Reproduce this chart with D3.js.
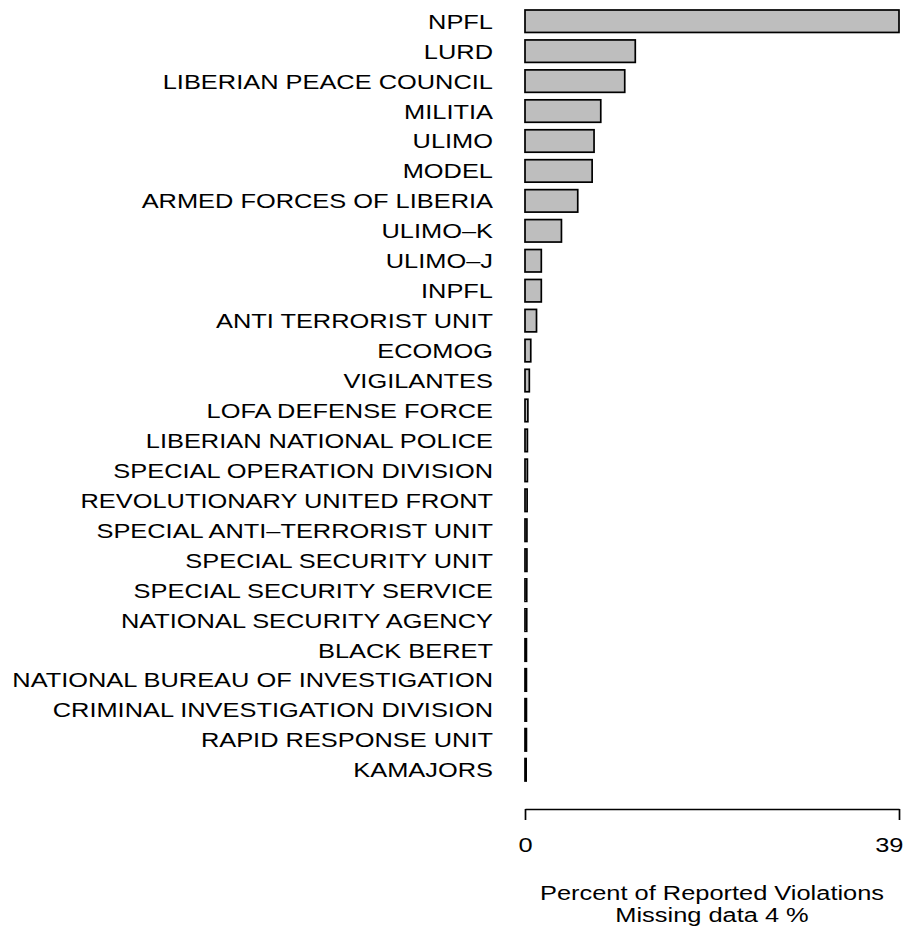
<!DOCTYPE html>
<html>
<head>
<meta charset="utf-8">
<script src="https://cdn.jsdelivr.net/npm/d3@7"></script>
<style>
  body { margin: 0; background: #fff; }
  text { font-family: "Liberation Sans", Arial, sans-serif; fill: #000; }
</style>
</head>
<body>
<div id="chart"></div>
<script>
var groups = ["NPFL", "LURD", "LIBERIAN PEACE COUNCIL", "MILITIA", "ULIMO", "MODEL",
  "ARMED FORCES OF LIBERIA", "ULIMO\u2013K", "ULIMO\u2013J", "INPFL", "ANTI TERRORIST UNIT",
  "ECOMOG", "VIGILANTES", "LOFA DEFENSE FORCE", "LIBERIAN NATIONAL POLICE",
  "SPECIAL OPERATION DIVISION", "REVOLUTIONARY UNITED FRONT", "SPECIAL ANTI\u2013TERRORIST UNIT",
  "SPECIAL SECURITY UNIT", "SPECIAL SECURITY SERVICE", "NATIONAL SECURITY AGENCY",
  "BLACK BERET", "NATIONAL BUREAU OF INVESTIGATION", "CRIMINAL INVESTIGATION DIVISION",
  "RAPID RESPONSE UNIT", "KAMAJORS"];
var percents = [39, 11.5, 10.4, 7.9, 7.2, 7.0, 5.5, 3.8, 1.7, 1.7, 1.2, 0.6, 0.45,
  0.3, 0.25, 0.25, 0.22, 0.2, 0.2, 0.18, 0.18, 0.15, 0.15, 0.15, 0.15, 0.12];
var tickValues = [0, 39];
var titleLines = ["Percent of Reported Violations", "Missing data 4 %"];

var W = 913, H = 929;
var x0 = 525, x1 = 899;
var fs = 21, sx = 1.21;   // font looks horizontally stretched in the original

var svg = d3.select("#chart").append("svg")
  .attr("width", W)
  .attr("height", H);

var x = d3.scaleLinear().domain([0, 39]).range([x0, x1]);
var y = d3.scaleBand().domain(groups).range([7, 784]).paddingInner(0.25).paddingOuter(0.1);

// bars
svg.selectAll("rect.bar")
  .data(groups)
  .enter()
  .append("rect")
  .attr("class", "bar")
  .attr("x", x(0))
  .attr("y", function(d){ return y(d); })
  .attr("width", function(d, i){ return Math.max(x(percents[i]) - x(0), 0.5); })
  .attr("height", y.bandwidth())
  .attr("fill", "#bebebe")
  .attr("stroke", "#000")
  .attr("stroke-width", 1.7);

// category labels
svg.selectAll("text.lab")
  .data(groups)
  .enter()
  .append("text")
  .attr("class", "lab")
  .attr("transform", function(d){
    return "translate(493," + (y(d) + y.bandwidth() / 2 + 7.5) + ") scale(" + sx + ",1)";
  })
  .attr("text-anchor", "end")
  .attr("font-size", fs + "px")
  .text(function(d){ return d; });

// bottom axis
var axis = d3.axisBottom(x).tickValues(tickValues).tickSize(11).tickPadding(0).tickSizeOuter(0);
var gAxis = svg.append("g")
  .attr("transform", "translate(0,809)")
  .call(axis);
gAxis.select(".domain").attr("stroke", "#000").attr("stroke-width", 1.7);
gAxis.selectAll(".tick line").attr("stroke", "#000").attr("stroke-width", 1.7);
gAxis.selectAll(".tick text")
  .attr("font-size", fs + "px")
  .attr("font-family", "Liberation Sans, Arial, sans-serif")
  .attr("fill", "#000")
  .attr("y", 0)
  .attr("dy", 0)
  .attr("transform", "translate(0,43) scale(" + sx + ",1)");
gAxis.selectAll(".tick text").filter(function(d){ return d === 39; })
  .attr("text-anchor", "end")
  .attr("transform", "translate(4,43) scale(" + sx + ",1)");

// axis title (slightly smaller so the two lines don't collide)
var tfs = 20, tsx = 1.27;
svg.selectAll("text.title")
  .data(titleLines)
  .enter()
  .append("text")
  .attr("class", "title")
  .attr("transform", function(d, i){
    return "translate(" + ((x0 + x1) / 2) + "," + (899.5 + i * 22.5) + ") scale(" + tsx + ",1)";
  })
  .attr("text-anchor", "middle")
  .attr("font-size", tfs + "px")
  .text(function(d){ return d; });
</script>
</body>
</html>
